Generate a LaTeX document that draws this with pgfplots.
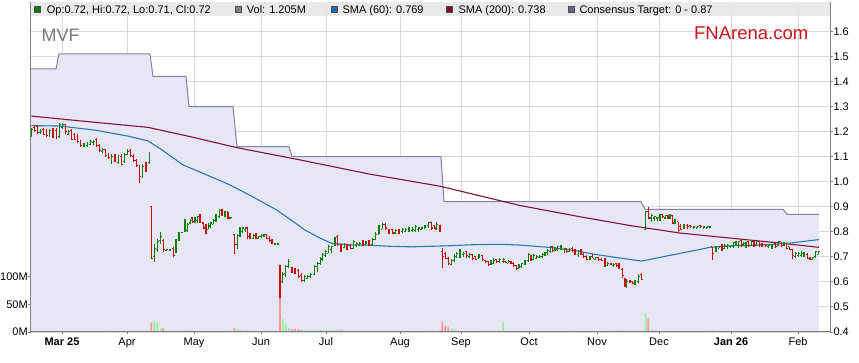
\documentclass[border=0pt]{standalone}
\usepackage{fontspec}
\setmainfont{Liberation Sans}
\usepackage{pgfplots}
\pgfplotsset{compat=1.18}
\usepackage{pgfplotstable}
\definecolor{upg}{RGB}{0,128,0}
\definecolor{dnr}{RGB}{204,0,0}
\definecolor{volg}{RGB}{150,240,150}
\definecolor{volr}{RGB}{255,150,150}
\definecolor{volgray}{RGB}{120,120,120}
\definecolor{lav}{RGB}{230,230,246}
\definecolor{cons}{RGB}{128,128,170}
\definecolor{sma60}{RGB}{40,120,185}
\definecolor{sma200}{RGB}{130,20,55}
\definecolor{gridc}{RGB}{217,217,217}
\definecolor{axc}{RGB}{128,128,128}
\definecolor{stripc}{RGB}{230,230,230}
\definecolor{fnred}{RGB}{200,20,30}
\definecolor{mvfc}{RGB}{120,120,120}
\definecolor{legblue}{RGB}{30,110,180}
\definecolor{legred}{RGB}{128,0,32}
\definecolor{legslate}{RGB}{100,100,150}

\pgfplotstableread{
x o h l c v
31.3 1.185 1.215 1.18 1.21 1.2
34.4 1.215 1.225 1.20 1.205 1.0
37.5 1.22 1.225 1.19 1.195 0.8
40.6 1.195 1.21 1.19 1.20 0.6
43.7 1.21 1.215 1.185 1.19 0.8
46.8 1.20 1.21 1.18 1.185 1.0
49.9 1.185 1.21 1.18 1.205 0.8
53.0 1.21 1.215 1.175 1.18 0.9
56.1 1.205 1.215 1.17 1.175 1.5
59.2 1.18 1.235 1.175 1.23 0.8
62.3 1.215 1.235 1.21 1.23 0.5
65.4 1.23 1.23 1.19 1.20 0.5
68.5 1.19 1.205 1.185 1.20 0.5
71.6 1.205 1.21 1.165 1.17 0.6
74.7 1.19 1.195 1.165 1.17 0.5
77.8 1.18 1.19 1.155 1.16 0.8
80.9 1.16 1.165 1.14 1.145 1.8
84.0 1.145 1.155 1.14 1.15 0.6
87.1 1.145 1.16 1.14 1.15 0.5
90.2 1.15 1.165 1.145 1.16 0.6
93.3 1.155 1.165 1.145 1.16 0.5
96.4 1.17 1.175 1.14 1.145 0.8
99.5 1.145 1.15 1.12 1.125 0.8
102.6 1.12 1.135 1.115 1.13 0.6
105.7 1.13 1.13 1.10 1.105 2.0
108.8 1.11 1.115 1.09 1.095 2.2
111.9 1.08 1.11 1.07 1.10 1.0
115.0 1.105 1.11 1.08 1.085 0.8
118.1 1.075 1.105 1.07 1.10 1.0
121.2 1.10 1.11 1.065 1.07 1.0
124.3 1.08 1.115 1.075 1.11 3.0
127.4 1.11 1.13 1.105 1.12 1.0
130.5 1.125 1.13 1.10 1.105 1.8
133.6 1.10 1.11 1.08 1.085 2.0
136.7 1.085 1.09 1.06 1.065 2.0
139.8 1.06 1.065 0.995 1.02 1.5
142.9 1.02 1.07 1.015 1.06 1.0
146.0 1.075 1.08 1.04 1.045 2.5
149.1 1.075 1.12 1.07 1.115 1.0
151.3 0.90 0.903 0.69 0.695 17.5
154.3 0.70 0.75 0.68 0.735 19
157.3 0.73 0.77 0.72 0.76 17
160.7 0.765 0.80 0.75 0.78 6
163.3 0.765 0.77 0.72 0.73 8
166.7 0.727 0.73 0.725 0.728 1
170.0 0.727 0.73 0.725 0.728 1
173.3 0.735 0.74 0.70 0.705 1.5
176.0 0.72 0.77 0.715 0.765 2.5
179.0 0.77 0.80 0.765 0.795 2.5
182.0 0.797 0.80 0.795 0.798 1
185.0 0.805 0.85 0.80 0.84 3
187.7 0.805 0.835 0.80 0.83 3
190.3 0.835 0.85 0.83 0.845 2
192.7 0.855 0.86 0.835 0.84 1.5
195.0 0.84 0.86 0.835 0.855 2
197.3 0.845 0.865 0.835 0.86 1.5
200.0 0.865 0.87 0.835 0.84 1.5
203.3 0.835 0.84 0.81 0.815 1.5
206.0 0.825 0.83 0.79 0.80 1
208.3 0.81 0.835 0.81 0.825 1
210.7 0.82 0.84 0.815 0.835 1.5
213.3 0.83 0.85 0.83 0.845 1
216.0 0.845 0.87 0.84 0.865 1
219.3 0.86 0.89 0.855 0.885 1
222.0 0.89 0.89 0.865 0.875 1.5
225.0 0.865 0.885 0.86 0.88 1
228.0 0.88 0.88 0.85 0.855 2
230.7 0.855 0.857 0.853 0.856 1.5
234.3 0.79 0.79 0.71 0.75 8
237.3 0.75 0.79 0.73 0.785 5
240.0 0.785 0.82 0.78 0.81 4
242.7 0.80 0.82 0.795 0.815 4
245.3 0.81 0.82 0.80 0.818 2
247.3 0.815 0.82 0.77 0.78 3
250.0 0.785 0.795 0.77 0.775 2
253.3 0.775 0.79 0.77 0.785 2
256.0 0.785 0.795 0.77 0.775 1
258.7 0.775 0.785 0.77 0.78 1
261.3 0.78 0.79 0.775 0.785 1
264.0 0.78 0.79 0.78 0.787 2
266.7 0.79 0.79 0.77 0.775 1.5
269.3 0.775 0.785 0.76 0.765 1.5
272.0 0.765 0.77 0.752 0.755 1
275.0 0.752 0.753 0.751 0.753 1
278.0 0.752 0.753 0.751 0.753 1.5
280.0 0.665 0.667 0.534 0.545 69
282.7 0.60 0.64 0.594 0.63 24
285.7 0.635 0.667 0.62 0.66 15
288.7 0.66 0.69 0.655 0.68 8
292.0 0.655 0.66 0.635 0.64 5
295.0 0.65 0.655 0.63 0.635 5
298.3 0.645 0.65 0.615 0.62 5
301.3 0.625 0.634 0.60 0.605 4
304.3 0.605 0.627 0.60 0.62 3
307.3 0.615 0.627 0.61 0.62 4
310.7 0.62 0.634 0.614 0.63 3
314.3 0.63 0.667 0.627 0.66 4
317.3 0.66 0.68 0.64 0.675 3
320.3 0.675 0.70 0.667 0.695 4
322.7 0.69 0.714 0.685 0.71 3
325.3 0.705 0.727 0.70 0.72 3
328.3 0.715 0.747 0.715 0.74 4
331.7 0.73 0.743 0.715 0.74 3.5
335.0 0.75 0.78 0.745 0.775 3.5
337.7 0.78 0.787 0.745 0.75 4
341.0 0.745 0.75 0.72 0.73 4
344.3 0.737 0.754 0.734 0.75 2
347.0 0.75 0.75 0.727 0.735 2
350.3 0.745 0.75 0.73 0.735 1.5
353.3 0.735 0.767 0.73 0.76 2
356.3 0.745 0.76 0.74 0.755 2
359.7 0.745 0.76 0.745 0.755 1.5
363.0 0.765 0.767 0.745 0.75 2
366.0 0.75 0.764 0.75 0.76 1.5
369.0 0.765 0.767 0.745 0.75 2
372.3 0.75 0.774 0.747 0.77 1.5
375.7 0.77 0.80 0.77 0.79 2
379.0 0.79 0.827 0.79 0.82 3
382.3 0.81 0.834 0.81 0.83 2
385.7 0.83 0.834 0.807 0.815 2
389.0 0.81 0.81 0.79 0.80 2
392.3 0.81 0.81 0.79 0.795 1.5
395.7 0.795 0.81 0.795 0.805 2
399.0 0.81 0.81 0.79 0.80 1.5
402.3 0.80 0.815 0.795 0.81 1.5
405.7 0.80 0.815 0.80 0.81 2
409.0 0.805 0.82 0.80 0.815 1
412.3 0.805 0.82 0.80 0.81 1
415.7 0.805 0.827 0.80 0.82 1
418.3 0.81 0.82 0.80 0.815 1
421.7 0.81 0.82 0.81 0.815 1.5
425.0 0.815 0.827 0.815 0.825 1
428.3 0.825 0.84 0.815 0.837 2
431.7 0.837 0.84 0.807 0.815 1.5
434.3 0.825 0.827 0.81 0.815 1
436.7 0.81 0.84 0.807 0.83 1
440.0 0.82 0.827 0.80 0.805 3
442.3 0.72 0.734 0.657 0.70 19
445.3 0.715 0.72 0.69 0.695 11.5
448.3 0.695 0.70 0.667 0.675 9
451.7 0.67 0.69 0.667 0.685 6
454.3 0.685 0.71 0.68 0.70 5
456.7 0.70 0.72 0.694 0.715 2
460.0 0.71 0.73 0.697 0.72 2
463.3 0.71 0.72 0.70 0.715 1
466.7 0.72 0.724 0.697 0.705 1
469.3 0.70 0.714 0.697 0.71 1.5
472.3 0.71 0.71 0.687 0.695 1
475.7 0.70 0.705 0.687 0.69 1
479.0 0.695 0.71 0.694 0.705 1
482.3 0.705 0.707 0.684 0.69 1
485.7 0.685 0.687 0.674 0.68 1
488.3 0.68 0.684 0.664 0.67 2
491.0 0.67 0.687 0.667 0.68 1
493.7 0.675 0.694 0.674 0.685 1
496.3 0.69 0.69 0.674 0.68 1
499.7 0.68 0.694 0.677 0.69 1
503.3 0.68 0.694 0.674 0.69 19
505.7 0.68 0.684 0.674 0.676 1
508.3 0.674 0.687 0.674 0.68 1
511.0 0.68 0.684 0.67 0.675 1
513.7 0.675 0.68 0.66 0.665 1
516.3 0.665 0.667 0.647 0.655 1.5
519.0 0.655 0.67 0.654 0.665 1
521.7 0.66 0.677 0.657 0.675 1
525.0 0.67 0.687 0.667 0.685 1
528.3 0.685 0.714 0.68 0.71 1.5
531.0 0.705 0.707 0.684 0.69 1
533.7 0.69 0.71 0.687 0.705 1
536.7 0.695 0.707 0.69 0.70 1
539.3 0.697 0.707 0.694 0.70 1
542.3 0.70 0.714 0.694 0.71 1
545.0 0.71 0.72 0.704 0.717 1
547.7 0.717 0.73 0.707 0.727 1.5
550.3 0.72 0.744 0.714 0.74 1
552.3 0.74 0.744 0.72 0.725 1
555.0 0.725 0.74 0.724 0.735 1
557.7 0.73 0.744 0.724 0.74 1
561.0 0.735 0.747 0.727 0.74 1.5
564.3 0.73 0.737 0.717 0.735 1
566.7 0.735 0.737 0.714 0.72 1
569.3 0.72 0.737 0.72 0.73 1
572.3 0.735 0.74 0.72 0.725 1.5
575.0 0.725 0.73 0.707 0.715 2
578.3 0.71 0.727 0.70 0.72 1
581.0 0.725 0.73 0.707 0.71 1
583.7 0.71 0.714 0.694 0.70 1
586.7 0.70 0.707 0.687 0.69 1.5
590.0 0.69 0.704 0.687 0.70 1
592.7 0.70 0.71 0.694 0.695 1
595.7 0.69 0.70 0.687 0.697 1
598.3 0.697 0.70 0.684 0.69 1
601.7 0.69 0.697 0.684 0.687 1
605.0 0.685 0.694 0.66 0.67 1.5
607.7 0.667 0.68 0.665 0.675 1
611.0 0.675 0.677 0.667 0.67 1.5
613.7 0.665 0.674 0.66 0.67 1
616.3 0.672 0.674 0.66 0.665 2
619.0 0.67 0.674 0.65 0.655 2.5
622.3 0.65 0.654 0.614 0.625 3
625.0 0.614 0.614 0.58 0.59 2
626.7 0.59 0.61 0.574 0.60 1.5
630.0 0.605 0.607 0.594 0.597 1.5
632.7 0.60 0.60 0.59 0.592 1
635.0 0.59 0.607 0.587 0.60 3
638.3 0.60 0.63 0.594 0.62 2
641.7 0.63 0.634 0.607 0.61 1
645.7 0.81 0.883 0.807 0.88 33
648.3 0.88 0.90 0.85 0.855 24
651.7 0.855 0.87 0.84 0.865 4
654.3 0.855 0.86 0.845 0.86 2
657.3 0.855 0.86 0.845 0.858 1.5
660.0 0.855 0.87 0.845 0.87 1
662.7 0.87 0.87 0.855 0.86 1
665.3 0.855 0.867 0.85 0.865 1
668.0 0.865 0.867 0.853 0.857 1.5
670.0 0.855 0.87 0.85 0.865 1
672.7 0.865 0.867 0.83 0.835 1
675.0 0.835 0.85 0.83 0.845 1
678.3 0.84 0.84 0.80 0.805 1
680.7 0.82 0.83 0.807 0.81 1.5
684.0 0.815 0.83 0.81 0.825 1
687.3 0.825 0.83 0.81 0.82 1
690.7 0.825 0.827 0.815 0.82 1
694.0 0.815 0.825 0.815 0.82 1
697.3 0.815 0.825 0.815 0.82 1
700.7 0.825 0.827 0.815 0.82 1
704.0 0.815 0.825 0.815 0.82 1
707.3 0.815 0.825 0.815 0.82 1
710.0 0.818 0.823 0.817 0.82 1
712.3 0.74 0.74 0.687 0.715 3
716.0 0.725 0.745 0.72 0.74 1
719.3 0.735 0.745 0.735 0.742 1
722.0 0.75 0.75 0.725 0.735 1
724.7 0.735 0.75 0.73 0.745 1
727.3 0.74 0.75 0.73 0.745 1
730.7 0.74 0.745 0.735 0.745 1
733.3 0.74 0.76 0.735 0.757 1
736.0 0.755 0.765 0.747 0.762 1
738.7 0.745 0.765 0.737 0.76 1
741.3 0.765 0.767 0.74 0.75 1
743.3 0.745 0.76 0.745 0.755 1
746.0 0.745 0.76 0.737 0.755 1
748.7 0.76 0.76 0.74 0.745 1
751.3 0.745 0.767 0.745 0.76 1
754.0 0.76 0.764 0.74 0.75 1
756.7 0.75 0.764 0.745 0.76 1
759.3 0.76 0.764 0.74 0.75 1
762.0 0.755 0.757 0.74 0.745 1
765.3 0.75 0.75 0.74 0.745 1
768.7 0.74 0.75 0.734 0.745 1
772.0 0.74 0.75 0.73 0.745 1
775.3 0.755 0.76 0.735 0.74 1
778.7 0.745 0.764 0.744 0.76 1
781.3 0.76 0.76 0.74 0.745 1
784.0 0.745 0.76 0.744 0.755 1
786.7 0.755 0.755 0.73 0.735 1
789.3 0.74 0.74 0.727 0.73 1
792.7 0.73 0.73 0.69 0.705 1
795.3 0.70 0.72 0.694 0.715 1
798.3 0.705 0.72 0.70 0.715 1
801.3 0.705 0.724 0.70 0.715 1
804.0 0.705 0.72 0.70 0.712 1
807.3 0.71 0.714 0.69 0.695 1
810.0 0.695 0.70 0.687 0.69 1
812.7 0.69 0.70 0.687 0.697 1
815.3 0.70 0.72 0.694 0.72 1
818.3 0.71 0.72 0.71 0.72 1.2
}\ohlc

\pgfplotsset{
  base/.style={scale only axis, width=799.3pt, height=329.5pt,
    at={(30.7pt,31pt)}, anchor=south west, xmin=30.7, xmax=830,
    tick label style={font=\fontsize{11}{13}\selectfont}},
  pax/.style={ymin=0.4, ymax=1.7154,
    ytick={0.4,0.5,0.6,0.7,0.8,0.9,1.0,1.1,1.2,1.3,1.4,1.5,1.6},
    xtick={62,127,194,261,326,400,461,529,597,659,731,798}}
}

\begin{document}
\begin{tikzpicture}[x=1pt,y=1pt]
\path[use as bounding box] (0,0) rectangle (859,363);
% grid + consensus target
\begin{axis}[base, pax, xticklabels={}, yticklabels={}, grid=major,
  major grid style={gridc, line width=0.9pt}, axis line style={draw=none},
  major tick length=0pt]
\addplot[fill=lav, draw=none] coordinates {(31,0.4) (31,1.45) (56,1.45) (59,1.51) (150,1.51) (153,1.42) (186,1.42) (189,1.30) (233,1.30) (237,1.14) (289,1.14) (292,1.10) (441,1.10) (444,0.92) (641,0.92) (645,0.89) (783,0.89) (787,0.87) (819,0.87) (819,0.4)};
\addplot[cons, line width=1pt] coordinates {(31,1.45) (56,1.45) (59,1.51) (150,1.51) (153,1.42) (186,1.42) (189,1.30) (233,1.30) (237,1.14) (289,1.14) (292,1.10) (441,1.10) (444,0.92) (641,0.92) (645,0.89) (783,0.89) (787,0.87) (819,0.87)};
\end{axis}
% volume
\begin{axis}[base, ymin=0, ymax=595.8, axis x line=none, axis y line*=left,
  axis line style={draw=none}, ytick={0,50,100}, yticklabels={0M,50M,100M},
  tick align=outside, major tick length=2.5pt, ytick style={axc, line width=0.9pt},
  yticklabel style={xshift=2.6pt, inner xsep=2.9pt}]
\addplot[ybar, bar width=1.8, fill=volg, draw=none] table[x=x, y expr={\thisrow{c}>\thisrow{o} ? \thisrow{v} : nan}] {\ohlc};
\addplot[ybar, bar width=1.8, fill=volr, draw=none] table[x=x, y expr={\thisrow{c}<\thisrow{o} ? \thisrow{v} : nan}] {\ohlc};
\addplot[ybar, bar width=1.8, fill=volgray, draw=none] table[x=x, y expr={\thisrow{c}==\thisrow{o} ? \thisrow{v} : nan}] {\ohlc};
\end{axis}
% price
\begin{axis}[base, pax, axis line style={draw=none},
  yticklabels={0.4,0.5,0.6,0.7,0.8,0.9,1.0,1.1,1.2,1.3,1.4,1.5,1.6},
  xticklabels={\textbf{Mar 25},Apr,May,Jun,Jul,Aug,Sep,Oct,Nov,Dec,\textbf{Jan 26},Feb},
  ytick pos=right, yticklabel pos=right, xtick pos=bottom,
  yticklabel style={xshift=-2.5pt},
  tick align=outside, major tick length=2.5pt, tick style={axc, line width=0.9pt}]
\addplot[sma200, line width=1.1pt] coordinates {(31.3,1.262) (100,1.235) (148,1.217) (190,1.18) (236.7,1.136) (300,1.087) (370,1.03) (440,0.982) (520,0.905) (580,0.86) (630,0.825) (680,0.795) (730,0.775) (780,0.755) (819,0.738)};
\addplot[sma60, line width=1.1pt] coordinates {(31.3,1.224) (60,1.222) (95,1.206) (128,1.182) (148,1.163) (163,1.124) (183,1.067) (205,1.03) (230,0.987) (255,0.935) (276.7,0.887) (290,0.85) (305,0.807) (320,0.775) (331.7,0.754) (350,0.748) (368,0.747) (390,0.742) (411.7,0.740) (430,0.742) (448,0.744) (470,0.748) (490,0.750) (501.7,0.750) (520,0.747) (551.7,0.737) (577,0.724) (591.7,0.712) (615,0.698) (641.7,0.683) (670,0.706) (696.7,0.727) (710,0.738) (730,0.744) (763,0.747) (790,0.755) (819,0.769)};
% OHLC bars: up
\addplot[upg, line width=1.1pt, quiver={u=0, v=\thisrow{h}-\thisrow{l}}] table[x=x, y expr={\thisrow{c}>=\thisrow{o} ? \thisrow{l} : nan}] {\ohlc};
\addplot[upg, line width=1.1pt, quiver={u=1.3, v=0}] table[x expr=\thisrow{x}-1.3, y expr={\thisrow{c}>=\thisrow{o} ? \thisrow{o} : nan}] {\ohlc};
\addplot[upg, line width=1.1pt, quiver={u=1.3, v=0}] table[x=x, y expr={\thisrow{c}>=\thisrow{o} ? \thisrow{c} : nan}] {\ohlc};
% OHLC bars: down
\addplot[dnr, line width=1.1pt, quiver={u=0, v=\thisrow{h}-\thisrow{l}}] table[x=x, y expr={\thisrow{c}<\thisrow{o} ? \thisrow{l} : nan}] {\ohlc};
\addplot[dnr, line width=1.1pt, quiver={u=1.3, v=0}] table[x expr=\thisrow{x}-1.3, y expr={\thisrow{c}<\thisrow{o} ? \thisrow{o} : nan}] {\ohlc};
\addplot[dnr, line width=1.1pt, quiver={u=1.3, v=0}] table[x=x, y expr={\thisrow{c}<\thisrow{o} ? \thisrow{c} : nan}] {\ohlc};
\end{axis}
% frame
\draw[axc, line width=1pt] (30.7,360.5) -- (30.7,31) -- (830,31) -- (830,360.5);
% legend strip
\fill[stripc, opacity=0.88] (30.7,347) rectangle (830,361);
\begin{scope}[font=\fontsize{11}{13}\selectfont]
\draw[fill=upg, draw=black!70, line width=0.5pt] (34.5,350.3) rectangle (40.5,356.3);
\node[anchor=base west, inner sep=0] at (46.7,349.6) {Op:0.72, Hi:0.72, Lo:0.71, Cl:0.72};
\draw[fill=gray, draw=black!70, line width=0.5pt] (235,350.3) rectangle (241,356.3);
\node[anchor=base west, inner sep=0] at (246.7,349.6) {Vol: 1.205M};
\draw[fill=legblue, draw=black!70, line width=0.5pt] (331,350.3) rectangle (337,356.3);
\node[anchor=base west, inner sep=0] at (342.3,349.6) {SMA (60): 0.769};
\draw[fill=legred, draw=black!70, line width=0.5pt] (446,350.3) rectangle (452,356.3);
\node[anchor=base west, inner sep=0] at (458.3,349.6) {SMA (200): 0.738};
\draw[fill=legslate, draw=black!70, line width=0.5pt] (568.5,350.3) rectangle (574.5,356.3);
\node[anchor=base west, inner sep=0] at (579.3,349.6) {Consensus Target: 0 - 0.87};
\end{scope}
\node[anchor=west, inner sep=0, text=mvfc, font=\fontsize{18}{20}\selectfont] at (41.5,328) {MVF};
\node[anchor=east, inner sep=0, text=fnred, font=\fontsize{18.5}{20}\selectfont] at (808.5,330) {FNArena.com};
\end{tikzpicture}
\end{document}
